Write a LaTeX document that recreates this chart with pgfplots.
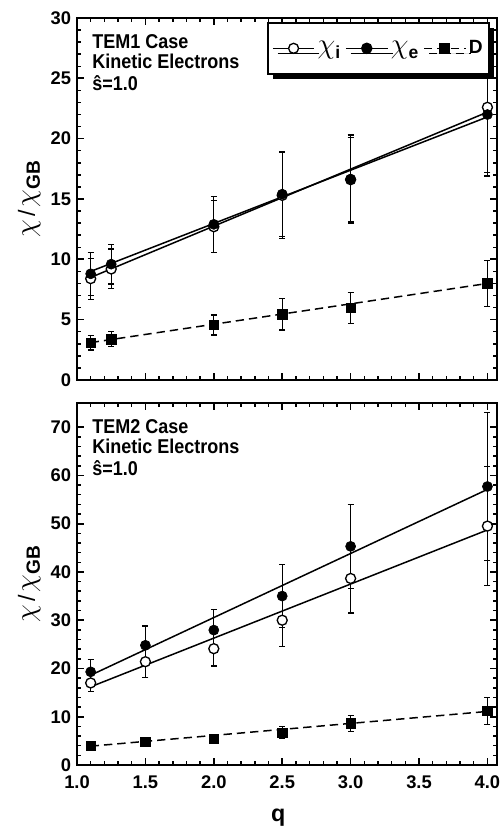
\documentclass[border=0pt]{standalone}
\usepackage{fontspec}
\setmainfont{Liberation Sans}
\newfontfamily\condfont[FakeStretch=0.9]{Liberation Sans}
\usepackage{pgfplots}
\pgfplotsset{compat=1.18}
\usetikzlibrary{shadows}

\pgfplotstableread{
x     y     e
1.1   8.4   1.7
1.25  9.2   1.65
2.0   12.7  2.15
2.5   15.3  3.6
3.0   16.6  3.5
4.0   22.6  5.4
}\topi
\pgfplotstableread{
x     y     e
1.1   8.8   1.8
1.25  9.6   1.65
2.0   12.9  2.3
2.5   15.4  3.5
3.0   16.65 3.65
4.0   22.0  5.1
}\tope
\pgfplotstableread{
x     y     e
1.1   3.1   0.62
1.25  3.37  0.62
2.0   4.56  0.83
2.5   5.44  1.3
3.0   5.97  1.3
4.0   8.0   1.93
}\topd
\pgfplotstableread{
x     y     e
1.1   17.0  1.8
1.5   21.4  3.25
2.0   24.1  3.6
2.5   30.0  5.5
3.0   38.65 7.15
4.0   49.5  12.3
}\boti
\pgfplotstableread{
x     y     e
1.1   19.3  2.6
1.5   24.8  4.0
2.0   27.95 4.25
2.5   35.0  6.55
3.0   45.3  8.7
4.0   57.7  15.3
}\bote
\pgfplotstableread{
x     y     e
1.1   3.93  0.5
1.5   4.76  0.5
2.0   5.38  0.5
2.5   6.7   1.2
3.0   8.6   1.65
4.0   11.2  2.75
}\botd

\newcommand{\chisym}{{\fontsize{19}{19}\selectfont$\chi$}}

\tikzset{lbl/.style={anchor=base west, inner sep=0pt, font=\condfont\bfseries\fontsize{12}{13}\selectfont}}

\pgfplotsset{
  panel/.style={
    scale only axis, width=252pt, height=217.2pt,
    xmin=1, xmax=4.07,
    xtick={1,1.5,2,2.5,3,3.5,4}, minor x tick num=4,
    tick align=inside, xtick pos=both, ytick pos=both,
    axis line style={line width=1.5pt},
    major tick length=4pt, minor tick length=2.2pt,
    major tick style={line width=1pt, black},
    minor tick style={line width=0.9pt, black},
    tick label style={font=\bfseries\fontsize{11}{13}\selectfont},
    /pgf/number format/assume math mode=true,
    x tick label style={yshift=-3pt, /pgf/number format/.cd, fixed, fixed zerofill, precision=1},
    ylabel={\chisym\,{\fontsize{14}{14}\selectfont/}\,\chisym\raisebox{-3pt}{\bfseries\fontsize{11.5}{11.5}\selectfont GB}},
    ylabel style={at={(rel axis cs:-0.114,0.5)}, anchor=center},
    legend image code/.code={\draw[mark repeat=2,mark phase=2,##1] plot coordinates {(0pt,0pt) (12.5pt,0pt) (25pt,0pt)};},
  },
  fitline/.style={black, line width=0.9pt, no marks},
  dline/.style={black, line width=0.9pt, no marks, dash pattern=on 5pt off 3pt},
  pts/.style={black, only marks, mark size=3pt,
    error bars/y dir=both, error bars/y explicit,
    error bars/error bar style={line width=0.7pt, black, solid},
    error bars/error mark options={rotate=90, mark size=1.8pt, line width=0.7pt, solid}},
  opn/.style={mark=*, mark options={fill=white, draw=black, line width=0.8pt, solid}},
  fld/.style={mark=*, mark options={fill=black, draw=black, solid}},
  sqr/.style={mark=square*, mark size=2.8pt, mark options={fill=black, draw=black, solid}},
}

\begin{document}
\begin{tikzpicture}
\path[use as bounding box] (-46.2pt,-271.8pt) rectangle (253.8pt,228pt);

\begin{axis}[panel, at={(0pt,0pt)}, anchor=south west,
  ymin=0, ymax=30, ytick={0,5,...,30}, minor y tick num=4,
  xticklabels={},
  legend columns=3,
  legend style={at={(rel axis cs:0.452,0.989)}, anchor=north west,
    draw=black, line width=1.2pt, fill=white,
    drop shadow={shadow xshift=3pt, shadow yshift=-3pt, fill=black, opacity=1},
    inner xsep=2.5pt, inner ysep=8.5pt,
    nodes={inner xsep=1.5pt},
    font=\bfseries\fontsize{11.5}{13}\selectfont,
    /tikz/every even column/.append style={column sep=1.5pt}},
]
\addlegendimage{black, line width=0.9pt, opn, mark size=3pt}
\addlegendentry{\chisym\raisebox{-3pt}{\bfseries\fontsize{10.5}{10.5}\selectfont i}}
\addlegendimage{black, line width=0.9pt, fld, mark size=3pt}
\addlegendentry{\chisym\raisebox{-3pt}{\bfseries\fontsize{10.5}{10.5}\selectfont e}}
\addlegendimage{black, line width=0.9pt, sqr, dash pattern=on 5pt off 3pt}
\addlegendentry{D}

\addplot[fitline, forget plot] coordinates {(1.1,8.5) (4.0,22.2)};
\addplot[fitline, forget plot] coordinates {(1.1,9.0) (4.0,21.8)};
\addplot[dline, forget plot] coordinates {(1.1,3.1) (4.0,8.0)};
\addplot[pts, opn, forget plot] table[x=x, y=y, y error=e] {\topi};
\addplot[pts, fld, forget plot] table[x=x, y=y, y error=e] {\tope};
\addplot[pts, sqr, forget plot] table[x=x, y=y, y error=e] {\topd};

\node[lbl] at (rel axis cs:0.036,0.9144) {TEM1 Case};
\node[lbl] at (rel axis cs:0.036,0.8618) {Kinetic Electrons};
\node[lbl] at (rel axis cs:0.036,0.801) {\^{s}=1.0};
\end{axis}

\begin{axis}[panel, at={(0pt,-231pt)}, anchor=south west,
  ymin=0, ymax=75, ytick={0,10,...,70}, minor y tick num=4,
  xlabel={q},
  xlabel style={at={(rel axis cs:0.479,0)}, anchor=base, yshift=-33.6pt,
    font=\bfseries\fontsize{14}{14}\selectfont},
]
\addplot[fitline] coordinates {(1.1,16.2) (4.0,48.7)};
\addplot[fitline] coordinates {(1.1,18.6) (4.0,57.1)};
\addplot[dline] coordinates {(1.1,3.9) (4.0,11.1)};
\addplot[pts, opn] table[x=x, y=y, y error=e] {\boti};
\addplot[pts, fld] table[x=x, y=y, y error=e] {\bote};
\addplot[pts, sqr] table[x=x, y=y, y error=e] {\botd};

\node[lbl] at (rel axis cs:0.036,0.9144) {TEM2 Case};
\node[lbl] at (rel axis cs:0.036,0.8618) {Kinetic Electrons};
\node[lbl] at (rel axis cs:0.036,0.801) {\^{s}=1.0};
\end{axis}
\end{tikzpicture}
\end{document}
